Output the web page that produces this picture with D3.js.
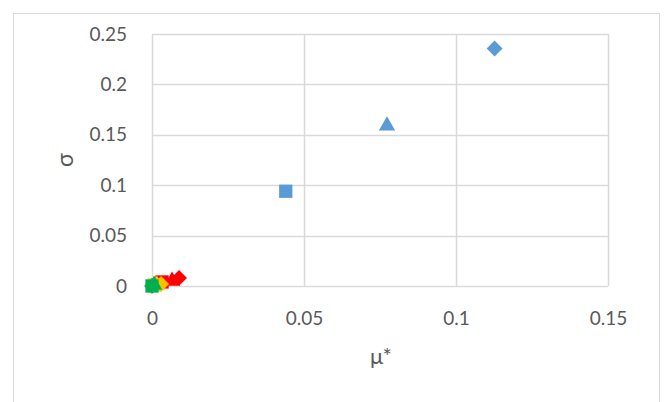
<!DOCTYPE html>
<html>
  <head>
    <meta charset="utf-8" />
    <title>Scatter</title>
    <script src="https://d3js.org/d3.v7.min.js"></script>
    <style>
      body { margin: 0; background: #fff; }
      text { font-family: Lato, "Open Sans", sans-serif; fill: #595959; }
    </style>
  </head>
  <body>
    <svg id="chart"></svg>
    <script>
      // data
      var xTicks = [0, 0.05, 0.1, 0.15];
      var yTicks = [0, 0.05, 0.1, 0.15, 0.2, 0.25];
      var seriesNames = ["blue", "red", "orange", "green"];
      var seriesColors = ["#5b9bd5", "#ff0000", "#ffc000", "#00b050"];
      var shapes = ["diamond", "square", "triangle"];
      var muStar = [
        [0.1127, 0.044, 0.0773],
        [0.0089, 0.0033, 0.0066],
        [0.003, 0.0007, 0.0016],
        [0.0, 0.0, 0.0007]
      ];
      var sigma = [
        [0.2356, 0.094, 0.159],
        [0.008, 0.004, 0.005],
        [0.002, 0.001, 0.001],
        [0.0, 0.0, 0.001]
      ];

      var width = 667, height = 402;
      var margin = {top: 34, right: 59, bottom: 116, left: 152};

      var svg = d3.select("#chart").attr("width", width).attr("height", height);

      svg.append("rect")
        .attr("x", 13.5).attr("y", 13.5)
        .attr("width", 646).attr("height", 400)
        .attr("fill", "none").attr("stroke", "#d9d9d9");

      var x = d3.scaleLinear().domain([0, 0.15]).range([margin.left, width - margin.right]);
      var y = d3.scaleLinear().domain([0, 0.25]).range([height - margin.bottom, margin.top]);

      // gridlines
      svg.append("g").selectAll("line").data(yTicks).join("line")
        .attr("x1", x(0)).attr("x2", x(0.15))
        .attr("y1", function(d) { return Math.round(y(d)) + 0.5; })
        .attr("y2", function(d) { return Math.round(y(d)) + 0.5; })
        .attr("stroke", "#d9d9d9").attr("stroke-width", 1.5);
      svg.append("g").selectAll("line").data(xTicks).join("line")
        .attr("y1", y(0)).attr("y2", y(0.25))
        .attr("x1", function(d) { return Math.round(x(d)) + 0.5; })
        .attr("x2", function(d) { return Math.round(x(d)) + 0.5; })
        .attr("stroke", "#d9d9d9").attr("stroke-width", 1.5);

      // tick labels
      var yAxis = svg.append("g")
        .attr("transform", "translate(" + (x(0) - 22) + ",0)")
        .call(d3.axisLeft(y).tickValues(yTicks).tickSize(0).tickFormat(d3.format("")));
      yAxis.select(".domain").remove();
      yAxis.selectAll("text").attr("font-size", 19).attr("fill", "#595959")
        .style("font-family", "Lato, sans-serif");

      var xAxis = svg.append("g")
        .attr("transform", "translate(0," + (y(0) + 22) + ")")
        .call(d3.axisBottom(x).tickValues(xTicks).tickSize(0).tickFormat(d3.format("")));
      xAxis.select(".domain").remove();
      xAxis.selectAll("text").attr("font-size", 19).attr("fill", "#595959")
        .style("font-family", "Lato, sans-serif");

      // axis titles
      svg.append("text")
        .attr("transform", "translate(73," + (y(0.125)) + ") rotate(-90)")
        .attr("text-anchor", "middle").attr("font-size", 23)
        .text("σ");
      svg.append("text")
        .attr("x", 381).attr("y", 364)
        .attr("text-anchor", "middle").attr("font-size", 22)
        .text("μ*");

      // markers
      var symbolType = {
        diamond: d3.symbolDiamond2,
        square: d3.symbolSquare2,
        triangle: d3.symbolTriangle2
      };
      var symbolSize = { diamond: 160, square: 225, triangle: 190 };

      var points = [];
      seriesNames.forEach(function(name, s) {
        shapes.forEach(function(shape, i) {
          points.push({ s: s, shape: shape, mu: muStar[s][i], sd: sigma[s][i] });
        });
      });

      svg.append("g").selectAll("path").data(points).join("path")
        .attr("transform", function(d) {
          return "translate(" + x(d.mu) + "," + y(d.sd) + ")";
        })
        .attr("d", function(d) {
          return d3.symbol().type(symbolType[d.shape]).size(symbolSize[d.shape])();
        })
        .attr("fill", function(d) { return seriesColors[d.s]; })
        .attr("stroke", "none");
    </script>
  </body>
</html>
